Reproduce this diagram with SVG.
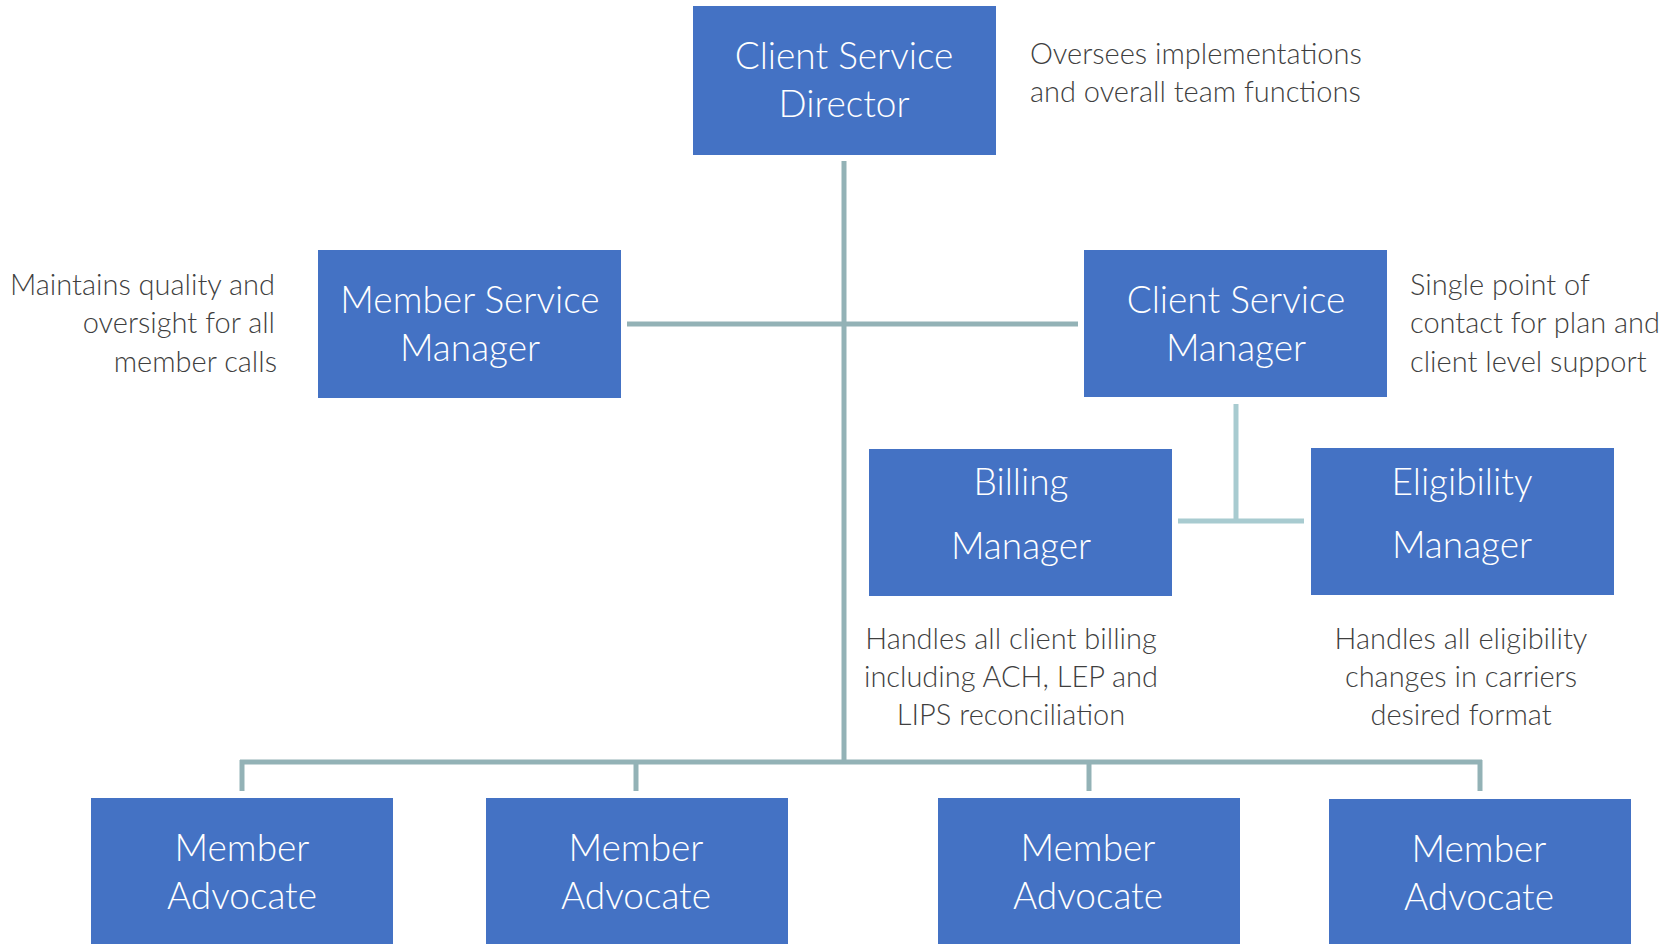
<svg xmlns="http://www.w3.org/2000/svg" width="1670" height="944" viewBox="0 0 1670 944">
<style>
.box{fill:#4472C4;}
.bt{font-family:Lato,"Open Sans","Liberation Sans",sans-serif;font-weight:300;font-size:37px;fill:#ffffff;text-anchor:middle;}
.note{font-family:Lato,"Open Sans","Liberation Sans",sans-serif;font-weight:300;font-size:29px;fill:#3f3f3f;}
.c1{stroke:#93B2B6;stroke-width:5;fill:none;}
.c2{stroke:#A8CBD0;stroke-width:5;fill:none;}
</style>
<rect width="1670" height="944" fill="#ffffff"/>
<g id="connectors">
<line class="c1" x1="844" y1="161" x2="844" y2="764"/>
<line class="c1" x1="627" y1="324" x2="1078" y2="324"/>
<line class="c2" x1="1236" y1="404" x2="1236" y2="522"/>
<line class="c2" x1="1178" y1="521" x2="1304" y2="521"/>
<line class="c1" x1="240" y1="762" x2="1482" y2="762"/>
<line class="c1" x1="242" y1="760" x2="242" y2="791"/>
<line class="c1" x1="636" y1="760" x2="636" y2="791"/>
<line class="c1" x1="1089" y1="760" x2="1089" y2="791"/>
<line class="c1" x1="1480" y1="760" x2="1480" y2="791"/>
</g>
<g id="client-service-director">
<rect class="box" x="693" y="6" width="303" height="149"/>
<text class="bt" x="844" y="69">Client Service</text>
<text class="bt" x="844" y="117">Director</text>
</g>
<g id="note-director">
<text class="note" x="1030" y="64">Oversees implementations</text>
<text class="note" x="1030" y="102">and overall team functions</text>
</g>
<g id="member-service-manager">
<rect class="box" x="318" y="250" width="303" height="148"/>
<text class="bt" x="470" y="313">Member Service</text>
<text class="bt" x="470" y="361">Manager</text>
</g>
<g id="note-msm">
<text class="note" x="275" y="295" text-anchor="end">Maintains quality and</text>
<text class="note" x="275" y="333" text-anchor="end">oversight for all</text>
<text class="note" x="277" y="372" text-anchor="end">member calls</text>
</g>
<g id="client-service-manager">
<rect class="box" x="1084" y="250" width="303" height="147"/>
<text class="bt" x="1236" y="313">Client Service</text>
<text class="bt" x="1236" y="361">Manager</text>
</g>
<g id="note-csm">
<text class="note" x="1410" y="295">Single point of</text>
<text class="note" x="1410" y="333">contact for plan and</text>
<text class="note" x="1410" y="372">client level support</text>
</g>
<g id="billing-manager">
<rect class="box" x="869" y="449" width="303" height="147"/>
<text class="bt" x="1021" y="495">Billing</text>
<text class="bt" x="1021" y="559">Manager</text>
</g>
<g id="note-billing">
<text class="note" x="1011" y="649" text-anchor="middle">Handles all client billing</text>
<text class="note" x="1011" y="687" text-anchor="middle">including ACH, LEP and</text>
<text class="note" x="1011" y="725" text-anchor="middle">LIPS reconciliation</text>
</g>
<g id="eligibility-manager">
<rect class="box" x="1311" y="448" width="303" height="147"/>
<text class="bt" x="1462" y="495">Eligibility</text>
<text class="bt" x="1462" y="558">Manager</text>
</g>
<g id="note-eligibility">
<text class="note" x="1461" y="649" text-anchor="middle">Handles all eligibility</text>
<text class="note" x="1461" y="687" text-anchor="middle">changes in carriers</text>
<text class="note" x="1461" y="725" text-anchor="middle">desired format</text>
</g>
<g id="member-advocate-1">
<rect class="box" x="91" y="798" width="302" height="146"/>
<text class="bt" x="242" y="861">Member</text>
<text class="bt" x="242" y="909">Advocate</text>
</g>
<g id="member-advocate-2">
<rect class="box" x="486" y="798" width="302" height="146"/>
<text class="bt" x="636" y="861">Member</text>
<text class="bt" x="636" y="909">Advocate</text>
</g>
<g id="member-advocate-3">
<rect class="box" x="938" y="798" width="302" height="146"/>
<text class="bt" x="1088" y="861">Member</text>
<text class="bt" x="1088" y="909">Advocate</text>
</g>
<g id="member-advocate-4">
<rect class="box" x="1329" y="799" width="302" height="145"/>
<text class="bt" x="1479" y="862">Member</text>
<text class="bt" x="1479" y="910">Advocate</text>
</g>
</svg>
